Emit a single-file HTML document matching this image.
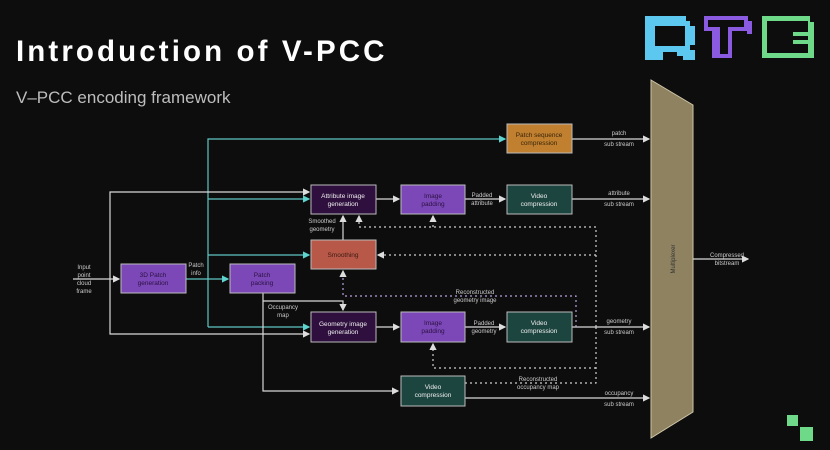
<!DOCTYPE html>
<html><head><meta charset="utf-8"><style>
html,body{margin:0;padding:0;background:#0d0d0d;}
body{width:830px;height:450px;overflow:hidden;position:relative;font-family:"Liberation Sans",sans-serif;}
.t{position:absolute;left:16px;top:35px;color:#fff;font-weight:bold;font-size:29.5px;letter-spacing:3.1px;}
.s{position:absolute;left:16px;top:88px;color:#bdbdbd;font-size:17px;}
svg text{font-family:"Liberation Sans",sans-serif;}
</style></head><body>
<div class="t">Introduction of V-PCC</div>
<div class="s">V–PCC encoding framework</div>
<svg width="830" height="450" style="position:absolute;left:0;top:0">
<defs>
<marker id="aw" markerWidth="6" markerHeight="6" refX="5" refY="3" orient="auto"><path d="M0,0L6,3L0,6z" fill="#ddd"/></marker>
<marker id="at" markerWidth="6" markerHeight="6" refX="5" refY="3" orient="auto"><path d="M0,0L6,3L0,6z" fill="#5fd3d0"/></marker>
</defs>
<!-- logo -->
<path d="M645,16H686V21H690V26H695V45H690V50H695V60H683V56H677V52H663V60H645Z M655,26V46H685V26Z" fill="#5cc8f0" fill-rule="evenodd"/>
<path d="M704,16H748V21H752V34H747V31H732V58H712V31H704Z M708,20V27H720V54H728V27H744V20Z" fill="#8a5ae0" fill-rule="evenodd"/>
<path d="M762,16H810V22H814V58H762Z M767,21V53H808V44H793V40H808V36H793V32H808V21Z" fill="#6fd98a" fill-rule="evenodd"/>
<rect x="787" y="415" width="11" height="11" fill="#6fd98a"/><rect x="800" y="427" width="13" height="14" fill="#6fd98a"/>
<!-- multiplexer -->
<polygon points="651,80 693,105 693,412 651,438" fill="#8e8260" stroke="#cfc7a8" stroke-width="1"/>
<text x="675" y="259" font-size="6" fill="#333" transform="rotate(-90 675 259)" text-anchor="middle">Multiplexer</text>
<!-- teal lines -->
<g stroke="#5fc7c4" stroke-width="1.2" fill="none">
<path d="M208,327V139H505" marker-end="url(#at)"/>
<path d="M208,199H309" marker-end="url(#at)"/>
<path d="M208,255H309" marker-end="url(#at)"/>
<path d="M208,327H309" marker-end="url(#at)"/>
<path d="M186,279H228" marker-end="url(#at)"/>
</g>
<!-- white lines -->
<g stroke="#d8d8d8" stroke-width="1.2" fill="none">
<path d="M73,279H119" marker-end="url(#aw)"/>
<path d="M110,279V192H309" marker-end="url(#aw)"/>
<path d="M110,279V334H309" marker-end="url(#aw)"/>
<path d="M263,293V391H398" marker-end="url(#aw)"/>
<path d="M263,301H343V310" marker-end="url(#aw)"/>
<path d="M343,240V216" marker-end="url(#aw)"/>
<path d="M376,199H399" marker-end="url(#aw)"/>
<path d="M465,199H505" marker-end="url(#aw)"/>
<path d="M376,327H399" marker-end="url(#aw)"/>
<path d="M465,327H505" marker-end="url(#aw)"/>
<path d="M572,139H649" marker-end="url(#aw)"/>
<path d="M572,199H649" marker-end="url(#aw)"/>
<path d="M572,327H649" marker-end="url(#aw)"/>
<path d="M465,398H649" marker-end="url(#aw)"/>
<path d="M693,259H748" marker-end="url(#aw)"/>
</g>
<!-- dotted -->
<g stroke="#cfcfcf" stroke-width="1.2" fill="none" stroke-dasharray="2,3">
<path d="M596,327V227H359V216" marker-end="url(#aw)"/>
<path d="M433,227V216" marker-end="url(#aw)"/>
<path d="M596,255H378" marker-end="url(#aw)"/>
<path d="M576,327V296H343V271" marker-end="url(#aw)" stroke="#b9a0e0"/>
<path d="M596,327V383H465"/>
<path d="M596,368H433V344" marker-end="url(#aw)"/>
</g>
<!-- boxes -->
<g stroke="#bbb" stroke-width="1">
<rect x="311" y="185" width="65" height="29" fill="#2e0f3e"/>
<rect x="311" y="240" width="65" height="29" fill="#b85848"/>
<rect x="121" y="264" width="65" height="29" fill="#7c48b8"/>
<rect x="230" y="264" width="65" height="29" fill="#7c48b8"/>
<rect x="311" y="312" width="65" height="30" fill="#2e0f3e"/>
<rect x="507" y="124" width="65" height="29" fill="#c08030"/>
<rect x="401" y="185" width="64" height="29" fill="#7c48b8"/>
<rect x="507" y="185" width="65" height="29" fill="#1d4540"/>
<rect x="401" y="312" width="64" height="30" fill="#7c48b8"/>
<rect x="507" y="312" width="65" height="30" fill="#1d4540"/>
<rect x="401" y="376" width="64" height="30" fill="#1d4540"/>
</g>
<g font-size="6.5" text-anchor="middle" fill="#eee">
<text x="343" y="198">Attribute image</text><text x="343" y="206">generation</text>
<text x="343" y="257" fill="#3a1a14">Smoothing</text>
<text x="153" y="277" fill="#2a1040">3D Patch</text><text x="153" y="285" fill="#2a1040">generation</text>
<text x="262" y="277" fill="#2a1040">Patch</text><text x="262" y="285" fill="#2a1040">packing</text>
<text x="343" y="326">Geometry image</text><text x="343" y="334">generation</text>
<text x="539" y="137" fill="#3a2408">Patch sequence</text><text x="539" y="145" fill="#3a2408">compression</text>
<text x="433" y="198" fill="#2a1040">Image</text><text x="433" y="206" fill="#2a1040">padding</text>
<text x="539" y="198">Video</text><text x="539" y="206">compression</text>
<text x="433" y="325" fill="#2a1040">Image</text><text x="433" y="333" fill="#2a1040">padding</text>
<text x="539" y="325">Video</text><text x="539" y="333">compression</text>
<text x="433" y="389">Video</text><text x="433" y="397">compression</text>
</g>
<g font-size="6" text-anchor="middle" fill="#ccc">
<text x="84" y="269">Input</text><text x="84" y="277">point</text><text x="84" y="285">cloud</text><text x="84" y="293">frame</text>
<text x="196" y="267">Patch</text><text x="196" y="275">info</text>
<text x="322" y="223">Smoothed</text><text x="322" y="231">geometry</text>
<text x="283" y="309">Occupancy</text><text x="283" y="317">map</text>
<text x="482" y="197">Padded</text><text x="482" y="205">attribute</text>
<text x="484" y="325">Padded</text><text x="484" y="333">geometry</text>
<text x="475" y="294">Reconstructed</text><text x="475" y="302">geometry image</text>
<text x="538" y="381">Reconstructed</text><text x="538" y="389">occupancy map</text>
<text x="619" y="135">patch</text><text x="619" y="146">sub stream</text>
<text x="619" y="195">attribute</text><text x="619" y="206">sub stream</text>
<text x="619" y="323">geometry</text><text x="619" y="334">sub stream</text>
<text x="619" y="395">occupancy</text><text x="619" y="406">sub stream</text>
<text x="727" y="257">Compressed</text><text x="727" y="265">bitstream</text>
</g>
</svg>
</body></html>
